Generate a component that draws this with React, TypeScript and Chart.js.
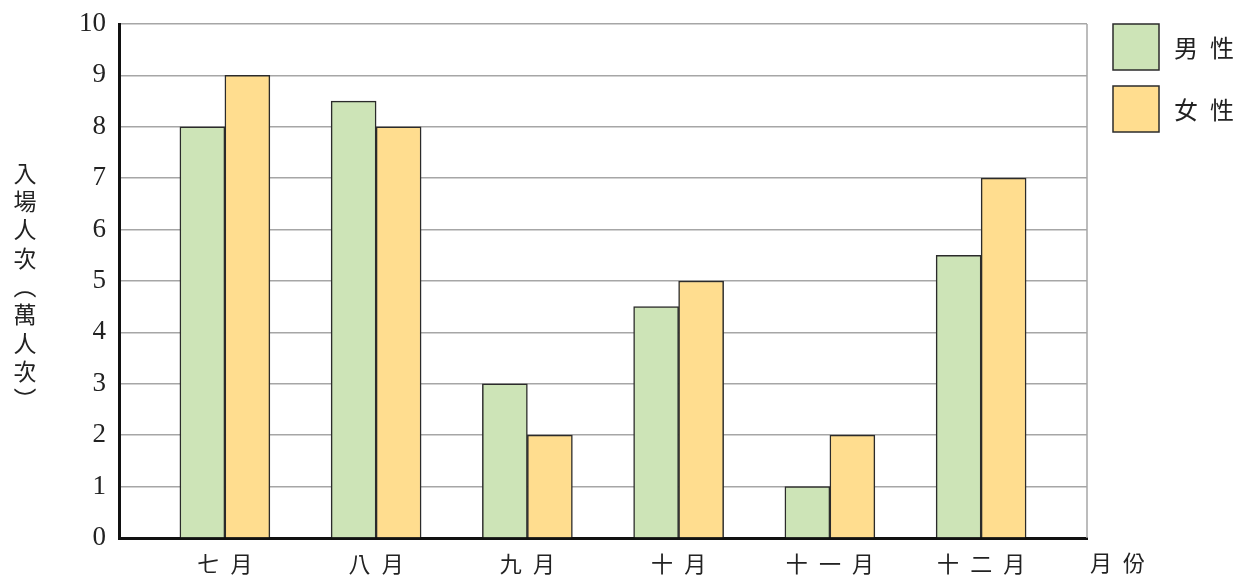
import React, { useEffect, useRef } from "react";
import { Chart, registerables } from "chart.js";

Chart.register(...registerables);

const categories = ["七月", "八月", "九月", "十月", "十一月", "十二月"];
const maleValues = [8, 8.5, 3, 4.5, 1, 5.5];
const femaleValues = [9, 8, 2, 5, 2, 7];
const seriesLabels = ["男性", "女性"];
const yTicks = [0, 1, 2, 3, 4, 5, 6, 7, 8, 9, 10];
const yTitleChars = ["入", "場", "人", "次", "︵", "萬", "人", "次", "︶"];
const xTitle = "月份";

const GREEN = "#cde4b7";
const ORANGE = "#ffdd8f";
const EDGE = "#2b2b2b";
const CJK = '"Noto Sans CJK TC", "Noto Sans CJK SC", sans-serif';

const spaced = (s: string) => s.split("").join("\u2002");

const extrasPlugin = {
  id: "extras",
  afterDraw(chart: any) {
    const { ctx, chartArea } = chart;
    ctx.save();
    ctx.strokeStyle = "#a6a6a6";
    ctx.lineWidth = 1.5;
    ctx.beginPath();
    ctx.moveTo(chartArea.right, chartArea.top);
    ctx.lineTo(chartArea.right, chartArea.bottom);
    ctx.stroke();

    ctx.fillStyle = "#222";
    ctx.font = `23px ${CJK}`;
    ctx.textAlign = "center";
    ctx.textBaseline = "middle";
    yTitleChars.forEach((c, i) => {
      ctx.fillText(c, 25, 173 + i * 28.3);
    });

    const ds = chart.data.datasets;
    ds.forEach((d: any, i: number) => {
      const y = 24 + i * 62;
      ctx.fillStyle = d.backgroundColor;
      ctx.fillRect(1113, y, 46, 46);
      ctx.strokeStyle = EDGE;
      ctx.lineWidth = 1.5;
      ctx.strokeRect(1113, y, 46, 46);
      ctx.fillStyle = "#222";
      ctx.font = `24px ${CJK}`;
      ctx.textAlign = "left";
      ctx.textBaseline = "middle";
      ctx.fillText(spaced(d.label), 1174, y + 24);
    });

    ctx.font = `22px ${CJK}`;
    ctx.textAlign = "left";
    ctx.textBaseline = "middle";
    ctx.fillText(spaced(xTitle), 1090, chartArea.bottom + 25);
    ctx.restore();
  },
};

export default function App() {
  const ref = useRef<HTMLCanvasElement | null>(null);
  useEffect(() => {
    if (!ref.current) return;
    const chart = new Chart(ref.current, {
      type: "bar",
      data: {
        datasets: [
          {
            label: seriesLabels[0],
            data: maleValues.map((v, i) => ({ x: i, y: v })),
            backgroundColor: GREEN,
            borderColor: EDGE,
            borderWidth: 1.5,
            barThickness: 45,
          },
          {
            label: seriesLabels[1],
            data: femaleValues.map((v, i) => ({ x: i, y: v })),
            backgroundColor: ORANGE,
            borderColor: EDGE,
            borderWidth: 1.5,
            barThickness: 45,
          },
        ],
      },
      options: {
        animation: false,
        responsive: false,
        maintainAspectRatio: false,
        layout: { padding: { left: 0, top: 24, right: 148, bottom: 0 } },
        plugins: { legend: { display: false }, tooltip: { enabled: false } },
        scales: {
          x: {
            type: "linear",
            offset: false,
            min: -0.7,
            max: 5.7,
            afterBuildTicks: (axis: any) => {
              axis.ticks = categories.map((_, i) => ({ value: i }));
            },
            afterFit: (axis: any) => {
              axis.height = 37;
              axis.paddingLeft = 0;
              axis.paddingRight = 0;
            },
            grid: { display: false, drawTicks: false, offset: false },
            border: { display: true, color: "#111", width: 3 },
            ticks: {
              autoSkip: false,
              maxRotation: 0,
              padding: 12,
              color: "#222",
              font: { family: CJK, size: 22 },
              callback: (v: any) => spaced(categories[Math.round(Number(v))] ?? ""),
            },
          },
          y: {
            type: "linear",
            min: 0,
            max: 10,
            afterBuildTicks: (axis: any) => {
              axis.ticks = yTicks.map((v) => ({ value: v }));
            },
            afterFit: (axis: any) => {
              axis.width = 119;
              axis.paddingTop = 0;
              axis.paddingBottom = 0;
            },
            grid: { color: "#a6a6a6", lineWidth: 1.5, drawTicks: false },
            border: { display: true, color: "#111", width: 3 },
            ticks: {
              padding: 13,
              color: "#222",
              font: { family: '"Liberation Serif", "DejaVu Serif", serif', size: 27 },
            },
          },
        },
      },
      plugins: [extrasPlugin],
    });
    return () => chart.destroy();
  }, []);
  return (
    <div style={{ position: "fixed", left: 0, top: 0, width: 1235, height: 575, background: "#fff" }}>
      <canvas ref={ref} width={1235} height={575} style={{ width: 1235, height: 575 }} />
    </div>
  );
}
